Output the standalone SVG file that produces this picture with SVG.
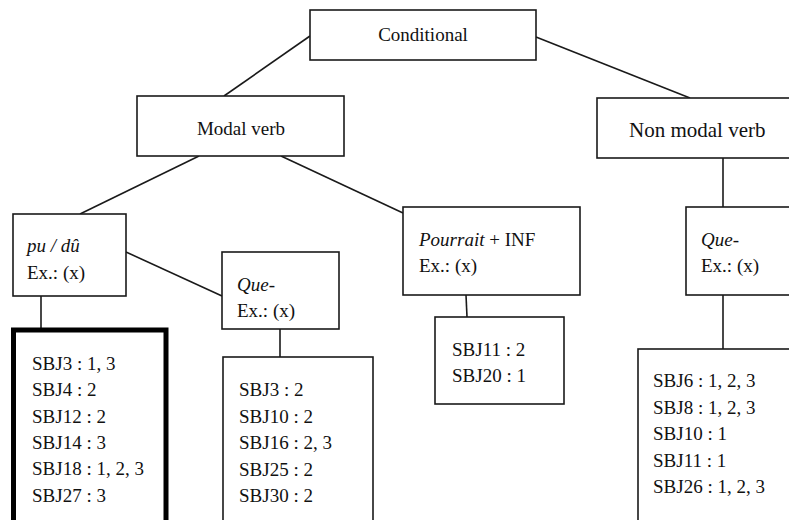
<svg xmlns="http://www.w3.org/2000/svg" width="789" height="520" viewBox="0 0 789 520">
<style>
  .box { fill: #ffffff; stroke: #1a1a1a; stroke-width: 1.6; }
  .thick { fill: #ffffff; stroke: #000000; stroke-width: 5; }
  .conn line { stroke: #1a1a1a; stroke-width: 1.6; }
  text { font-size: 19px; fill: #111111; }
  .it { font-style: italic; }
</style>
<rect width="789" height="520" fill="#ffffff"/>
<g class="conn" id="connectors">
  <line x1="310" y1="36" x2="224" y2="96"/>
  <line x1="536" y1="37" x2="690" y2="98"/>
  <line x1="199" y1="156" x2="80" y2="214"/>
  <line x1="281" y1="156" x2="403" y2="213"/>
  <line x1="723" y1="158" x2="723" y2="207"/>
  <line x1="126" y1="252" x2="222" y2="296"/>
  <line x1="41" y1="296" x2="41" y2="328"/>
  <line x1="280" y1="329" x2="280" y2="357"/>
  <line x1="466" y1="295" x2="467" y2="317"/>
  <line x1="723" y1="295" x2="723" y2="349"/>
</g>
<g font-family="Liberation Serif, DejaVu Serif, serif">
<g id="conditional">
  <rect class="box" x="310" y="10" width="226" height="50"/>
  <text x="423" y="41" text-anchor="middle">Conditional</text>
</g>
<g id="modal-verb">
  <rect class="box" x="137" y="96" width="207" height="60"/>
  <text x="241" y="135" text-anchor="middle">Modal verb</text>
</g>
<g id="non-modal-verb">
  <rect class="box" x="597" y="98" width="200" height="60"/>
  <text x="629" y="137" style="font-size:21px">Non modal verb</text>
</g>
<g id="pu-du">
  <rect class="box" x="13" y="214" width="113" height="82"/>
  <text x="27" y="252"><tspan class="it">pu / dû</tspan></text>
  <text x="27" y="279">Ex.: (x)</text>
</g>
<g id="que-modal">
  <rect class="box" x="222" y="252" width="117" height="77"/>
  <text x="237" y="291"><tspan class="it">Que-</tspan></text>
  <text x="237" y="317">Ex.: (x)</text>
</g>
<g id="pourrait-inf">
  <rect class="box" x="403" y="207" width="177" height="88"/>
  <text x="419" y="246"><tspan class="it">Pourrait</tspan> + INF</text>
  <text x="419" y="272">Ex.: (x)</text>
</g>
<g id="que-nonmodal">
  <rect class="box" x="686" y="207" width="120" height="88"/>
  <text x="701" y="246"><tspan class="it">Que-</tspan></text>
  <text x="701" y="272">Ex.: (x)</text>
</g>
<g id="pu-du-list">
  <rect class="thick" x="13.5" y="330" width="152.5" height="200"/>
  <text x="32" y="370">SBJ3 : 1, 3</text>
  <text x="32" y="396.3">SBJ4 : 2</text>
  <text x="32" y="422.6">SBJ12 : 2</text>
  <text x="32" y="448.9">SBJ14 : 3</text>
  <text x="32" y="475.2">SBJ18 : 1, 2, 3</text>
  <text x="32" y="501.5">SBJ27 : 3</text>
</g>
<g id="que-modal-list">
  <rect class="box" x="223" y="357" width="150" height="180"/>
  <text x="239" y="396">SBJ3 : 2</text>
  <text x="239" y="422.5">SBJ10 : 2</text>
  <text x="239" y="449">SBJ16 : 2, 3</text>
  <text x="239" y="475.5">SBJ25 : 2</text>
  <text x="239" y="502">SBJ30 : 2</text>
</g>
<g id="pourrait-list">
  <rect class="box" x="435" y="317" width="129" height="87"/>
  <text x="452" y="356">SBJ11 : 2</text>
  <text x="452" y="382">SBJ20 : 1</text>
</g>
<g id="que-nonmodal-list">
  <rect class="box" x="638" y="349" width="170" height="190"/>
  <text x="653" y="387">SBJ6 : 1, 2, 3</text>
  <text x="653" y="413.5">SBJ8 : 1, 2, 3</text>
  <text x="653" y="440">SBJ10 : 1</text>
  <text x="653" y="466.5">SBJ11 : 1</text>
  <text x="653" y="493">SBJ26 : 1, 2, 3</text>
</g>
</g>
</svg>
